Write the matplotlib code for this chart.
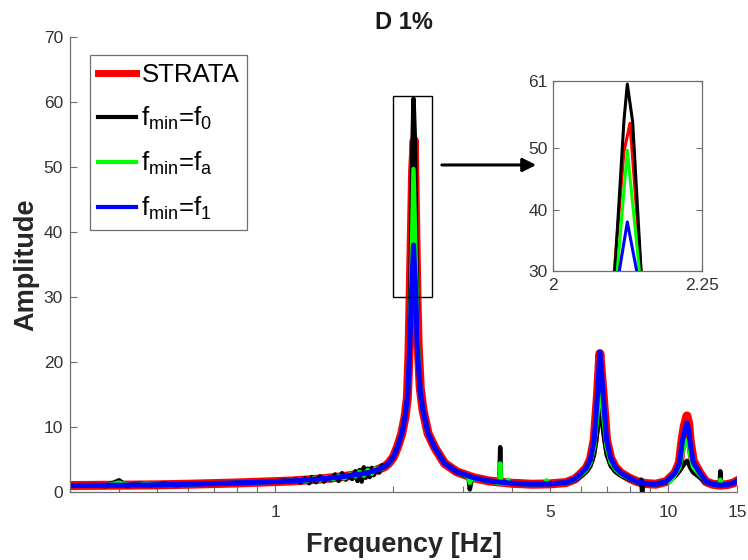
import matplotlib
matplotlib.use("Agg")
import matplotlib.pyplot as plt
from matplotlib.patches import Rectangle
from matplotlib.ticker import FixedLocator, FixedFormatter, NullFormatter

plt.rcParams['font.family'] = ['Liberation Sans', 'DejaVu Sans']
plt.rcParams['mathtext.fontset'] = 'custom'
plt.rcParams['mathtext.rm'] = 'Liberation Sans'
plt.rcParams['mathtext.it'] = 'Liberation Sans'

# ---- data: (frequency [Hz], amplitude) ----
strata = [(0.3, 1.0), (0.4, 1.05), (0.5, 1.1), (0.6, 1.2), (0.7, 1.3), (0.8, 1.4), (0.9, 1.5),
          (1.0, 1.6), (1.1, 1.7), (1.2, 1.85), (1.3, 2.0), (1.4, 2.2), (1.5, 2.4), (1.6, 2.65),
          (1.7, 2.9), (1.8, 3.3), (1.9, 3.9), (1.95, 4.5), (2.0, 5.4), (2.05, 7.0), (2.1, 9.0),
          (2.14, 11.5), (2.17, 14.5), (2.19, 21.0), (2.2056, 30.0), (2.2382, 49.5), (2.2584, 54.1),
          (2.2955, 30.0), (2.31, 23.0), (2.34, 16.0), (2.38, 12.5), (2.45, 9.0), (2.55, 6.8),
          (2.7, 4.4), (2.9, 3.1), (3.2, 2.2), (3.5, 1.7), (4.0, 1.35), (4.5, 1.2), (5.0, 1.25),
          (5.5, 1.45), (5.8, 2.0), (6.0, 2.8), (6.2, 3.7), (6.35, 5.0), (6.49, 8.0), (6.62, 15.0),
          (6.71, 21.3), (6.84, 15.0), (6.98, 8.0), (7.15, 5.2), (7.35, 3.8), (7.6, 2.9), (8.0, 2.1),
          (8.35, 1.6), (8.8, 1.3), (9.3, 1.2), (9.9, 1.6), (10.42, 2.9), (10.7, 4.5), (10.87, 8.0),
          (11.0, 10.0), (11.18, 11.7), (11.3, 10.5), (11.39, 8.0), (11.6, 4.8), (12.07, 2.9),
          (12.5, 1.6), (13.0, 1.2), (13.6, 1.05), (14.2, 1.15), (14.7, 1.4), (15.0, 1.7)]

fmin_f0 = [(0.3, 1.0), (0.34, 1.05), (0.37, 0.9), (0.40, 1.8), (0.42, 0.9), (0.45, 1.25),
           (0.48, 1.05), (0.52, 1.3), (0.56, 1.05), (0.6, 1.2), (0.7, 1.3), (0.8, 1.4), (0.9, 1.5),
           (1.0, 1.6), (1.05, 1.75), (1.10, 1.7), (1.13, 1.95), (1.16, 1.45), (1.19, 2.1),
           (1.22, 1.35), (1.24, 2.3), (1.27, 1.5), (1.30, 2.4), (1.33, 1.6), (1.36, 2.3),
           (1.39, 1.8), (1.42, 2.7), (1.45, 1.7), (1.48, 2.9), (1.51, 1.9), (1.54, 2.6),
           (1.57, 2.0), (1.60, 3.2), (1.62, 1.7), (1.64, 3.4), (1.66, 1.6), (1.68, 3.8),
           (1.70, 2.2), (1.72, 3.6), (1.74, 2.3), (1.76, 3.7), (1.78, 2.6), (1.81, 3.6),
           (1.84, 3.0), (1.87, 4.1), (1.9, 3.9), (1.95, 4.5), (2.0, 5.4), (2.05, 7.0), (2.1, 9.0),
           (2.14, 11.5), (2.17, 14.5), (2.19, 18.0), (2.2075, 30.0), (2.2382, 54.6),
           (2.2494, 60.5), (2.2674, 54.3), (2.2955, 30.0), (2.31, 22.0), (2.34, 15.5),
           (2.38, 12.5), (2.45, 9.0), (2.55, 6.8), (2.7, 4.4), (2.9, 3.1), (3.05, 2.4),
           (3.1, 2.6), (3.13, 0.4), (3.17, 2.2), (3.5, 1.7), (3.72, 1.35), (3.74, 6.9),
           (3.76, 1.35), (4.0, 1.3), (4.5, 1.2), (5.0, 1.25), (5.5, 1.4), (5.8, 1.8), (6.0, 2.4),
           (6.2, 3.1), (6.35, 4.0), (6.49, 5.8), (6.62, 9.5), (6.71, 13.0), (6.84, 9.5),
           (6.98, 5.8), (7.15, 4.0), (7.35, 3.1), (7.6, 2.5), (8.0, 1.9), (8.35, 1.5), (8.5, 1.3),
           (8.55, 1.9), (8.6, -0.2), (8.65, 1.3), (9.3, 1.15), (9.9, 1.5), (10.42, 2.4),
           (10.7, 3.2), (10.87, 3.8), (11.0, 4.3), (11.18, 4.8), (11.3, 4.3), (11.39, 3.8),
           (11.6, 3.0), (12.07, 2.2), (12.5, 1.5), (13.0, 1.2), (13.55, 1.05), (13.6, 3.2),
           (13.65, 1.05), (14.2, 1.15), (14.7, 1.4), (15.0, 1.7)]

fmin_fa = [(0.3, 1.0), (0.37, 1.0), (0.40, 1.45), (0.43, 1.0), (0.47, 1.25), (0.5, 1.1),
           (0.6, 1.2), (0.7, 1.3), (0.8, 1.4), (0.9, 1.5), (1.0, 1.6), (1.1, 1.7), (1.15, 1.9),
           (1.2, 1.65), (1.25, 2.1), (1.3, 1.8), (1.35, 2.3), (1.4, 1.95), (1.45, 2.5), (1.5, 2.1),
           (1.55, 2.7), (1.6, 2.4), (1.64, 3.1), (1.68, 2.5), (1.72, 3.4), (1.76, 2.8), (1.8, 3.6),
           (1.85, 3.5), (1.9, 3.9), (1.95, 4.5), (2.0, 5.4), (2.05, 7.0), (2.1, 9.0), (2.14, 11.5),
           (2.17, 14.5), (2.19, 18.5), (2.2157, 30.0), (2.2494, 49.7), (2.2899, 30.0), (2.31, 22.0),
           (2.34, 15.5), (2.38, 12.5), (2.45, 9.0), (2.55, 6.8), (2.7, 4.4), (2.9, 3.1), (3.1, 2.3),
           (3.13, 1.4), (3.17, 2.1), (3.5, 1.7), (3.72, 1.35), (3.74, 4.4), (3.76, 1.35),
           (3.9, 1.3), (3.92, 1.9), (3.95, 1.3), (4.5, 1.2), (4.88, 1.25), (4.91, 1.8),
           (4.94, 1.25), (5.5, 1.4), (5.8, 1.9), (6.0, 2.6), (6.2, 3.4), (6.35, 4.5), (6.49, 7.0),
           (6.62, 12.0), (6.71, 17.0), (6.84, 12.0), (6.98, 7.0), (7.15, 4.6), (7.35, 3.5),
           (7.6, 2.7), (8.0, 2.0), (8.35, 1.55), (8.8, 1.3), (9.3, 1.2), (9.9, 1.6), (10.05, 1.5),
           (10.1, 2.0), (10.15, 1.6), (10.42, 2.6), (10.7, 3.8), (10.87, 5.8), (11.0, 7.0),
           (11.18, 8.0), (11.3, 7.2), (11.39, 5.8), (11.6, 3.8), (12.07, 2.6), (12.5, 1.55),
           (13.0, 1.2), (13.55, 1.05), (13.6, 1.9), (13.65, 1.05), (14.2, 1.15), (14.7, 1.4),
           (15.0, 1.7)]

fmin_f1 = [(0.3, 1.0), (0.4, 1.05), (0.5, 1.1), (0.6, 1.2), (0.7, 1.3), (0.8, 1.4), (0.9, 1.5),
           (1.0, 1.6), (1.1, 1.7), (1.2, 1.85), (1.3, 2.0), (1.4, 2.2), (1.5, 2.4), (1.6, 2.65),
           (1.7, 2.9), (1.8, 3.3), (1.9, 3.9), (1.95, 4.5), (2.0, 5.4), (2.05, 7.0), (2.1, 9.0),
           (2.14, 11.5), (2.17, 14.5), (2.19, 19.0), (2.2225, 30.0), (2.2494, 38.0),
           (2.2809, 30.0), (2.30, 22.0), (2.34, 15.5), (2.38, 12.5), (2.45, 9.0), (2.55, 6.8),
           (2.7, 4.4), (2.9, 3.1), (3.2, 2.2), (3.5, 1.7), (4.0, 1.35), (4.5, 1.2), (5.0, 1.25),
           (5.5, 1.45), (5.8, 2.0), (6.0, 2.8), (6.2, 3.7), (6.35, 5.0), (6.49, 8.0), (6.62, 15.0),
           (6.71, 21.5), (6.84, 15.0), (6.98, 8.0), (7.15, 5.2), (7.35, 3.8), (7.6, 2.9), (8.0, 2.1),
           (8.35, 1.6), (8.8, 1.3), (9.3, 1.2), (9.9, 1.6), (10.42, 2.9), (10.7, 4.4), (10.87, 7.6),
           (11.0, 9.2), (11.18, 10.6), (11.3, 9.6), (11.39, 7.6), (11.6, 4.6), (12.07, 2.9),
           (12.5, 1.6), (13.0, 1.2), (13.6, 1.05), (14.2, 1.15), (14.7, 1.4), (15.0, 1.7)]

labels = ['STRATA', r'f$_{\mathrm{min}}$=f$_{0}$',
          r'f$_{\mathrm{min}}$=f$_{\mathrm{a}}$', r'f$_{\mathrm{min}}$=f$_{1}$']
colors = ['#ff0000', '#000000', '#00ff00', '#0000ff']
series = [strata, fmin_f0, fmin_fa, fmin_f1]

x_major = [1, 5, 10, 15]
x_minor = [0.3, 0.4, 0.5, 0.6, 0.7, 0.8, 0.9, 2, 3, 4, 6, 7, 8, 9]
y_ticks = [0, 10, 20, 30, 40, 50, 60, 70]
zoom_yticks = [30, 40, 50, 61]

axcol = '#6e6e6e'
txtcol = '#333333'

fig = plt.figure(figsize=(7.48, 5.6), dpi=100)
ax = fig.add_axes([0.0936, 0.1214, 0.8917, 0.8125])

main_lw = [6.5, 3.2, 3.2, 3.7]
for pts, c, lab, lw in zip(series, colors, labels, main_lw):
    f, a = zip(*pts)
    ax.plot(f, a, color=c, lw=lw, label=lab, solid_joinstyle='round')

ax.set_xscale('log')
ax.set_xlim(0.3, 15)
ax.set_ylim(0, 70)
ax.xaxis.set_major_locator(FixedLocator(x_major))
ax.xaxis.set_major_formatter(FixedFormatter([str(v) for v in x_major]))
ax.xaxis.set_minor_locator(FixedLocator(x_minor))
ax.xaxis.set_minor_formatter(NullFormatter())
ax.set_yticks(y_ticks)

for s in ['top', 'right']:
    ax.spines[s].set_visible(False)
for s in ['left', 'bottom']:
    ax.spines[s].set_color(axcol)
    ax.spines[s].set_linewidth(0.9)
ax.tick_params(which='both', direction='in', colors=axcol, labelcolor=txtcol,
               labelsize=12.5, width=0.8)
ax.tick_params(which='major', length=5)
ax.tick_params(which='minor', length=4)
ax.tick_params(axis='x', pad=9)
ax.tick_params(axis='y', pad=5)

ax.set_xlabel('Frequency [Hz]', fontsize=19.5, fontweight='bold', color='#262626')
ax.xaxis.set_label_coords(0.5, -0.088)
ax.xaxis.label.set_va('top')
ax.set_ylabel('Amplitude', fontsize=19.5, fontweight='bold', color='#262626')
ax.yaxis.set_label_coords(-0.046, 0.5)
ax.set_title('D 1%', fontsize=17, fontweight='bold', color='#1a1a1a', pad=6)

leg = ax.legend(loc='upper left', bbox_to_anchor=(0.030, 0.960), borderaxespad=0,
                fontsize=18.5, handlelength=1.5, handletextpad=0.2,
                labelspacing=0.7, borderpad=0.3, fancybox=False,
                edgecolor=axcol, framealpha=1)
leg.get_frame().set_linewidth(0.9)
for h, lw in zip(leg.get_lines(), [5, 3, 3, 3]):
    h.set_linewidth(lw)

# zoom box on the main peak
ax.add_patch(Rectangle((2.0, 30), 0.5, 31, fill=False, ec='k', lw=1.0, zorder=5))

ax.annotate('', xy=(0.7206, 0.7054), xytext=(0.587, 0.7054),
            xycoords='figure fraction', textcoords='figure fraction',
            arrowprops=dict(arrowstyle='-|>', color='k', lw=2.2, mutation_scale=20))

# inset
ins = fig.add_axes([0.7393, 0.5161, 0.1992, 0.3393])
for pts, c in zip(series, colors):
    f, a = zip(*pts)
    ins.plot(f, a, color=c, lw=2.2)
ins.set_xlim(2.0, 2.5)
ins.set_ylim(30, 61)
ins.set_xticks([2.0, 2.5])
ins.set_xticklabels(['2', '2.25'])
ins.set_yticks(zoom_yticks)
for s in ins.spines.values():
    s.set_color(axcol)
    s.set_linewidth(0.9)
ins.tick_params(direction='in', top=True, right=True, colors=axcol,
                labelcolor=txtcol, labelsize=12.5, length=4, width=0.8)
ins.tick_params(axis='x', pad=5)
ins.tick_params(axis='y', pad=4)

fig.savefig('out.png', dpi=100)
